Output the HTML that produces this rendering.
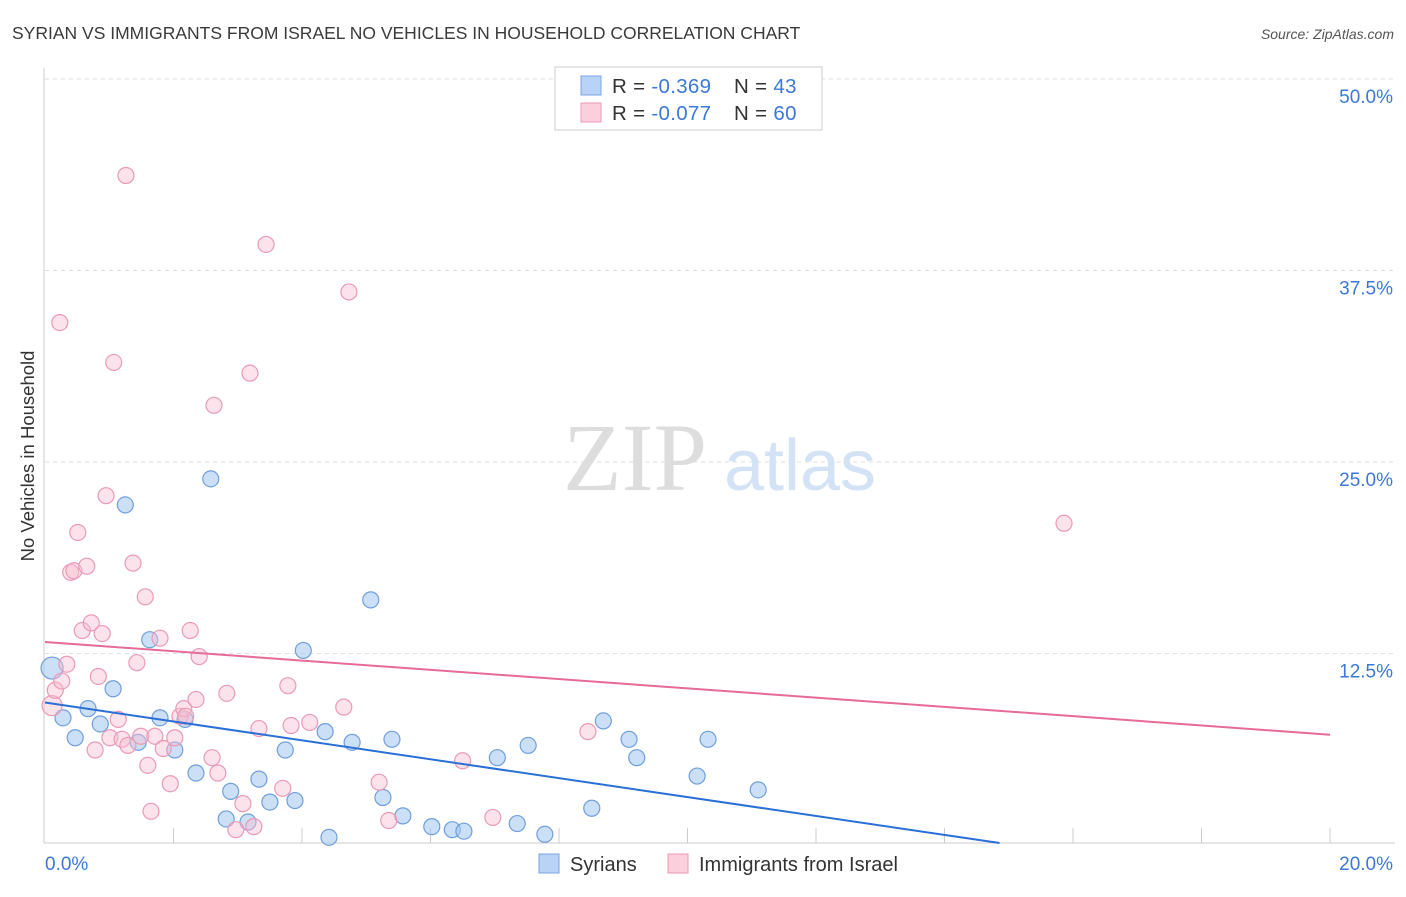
<!DOCTYPE html>
<html><head><meta charset="utf-8"><style>
body{margin:0;background:#fff;font-family:"Liberation Sans",sans-serif;}
svg text{font-family:"Liberation Sans",sans-serif;}
</style></head><body>
<svg width="1406" height="892">
<text x="12" y="39" font-size="17.5" fill="#3a3a3a">SYRIAN VS IMMIGRANTS FROM ISRAEL NO VEHICLES IN HOUSEHOLD CORRELATION CHART</text>
<text x="1394" y="39" font-size="14" fill="#555" font-style="italic" text-anchor="end">Source: ZipAtlas.com</text>
<g id="grid"></g>
<text x="635" y="490" font-size="96" fill="#ddd" font-family="Liberation Serif" text-anchor="middle" style="font-family:'Liberation Serif',serif">ZIP</text>
<text x="800" y="490" font-size="72" fill="#d4e2f5" text-anchor="middle">atlas</text>
<line x1="44" y1="68" x2="44" y2="843" stroke="#ccc"/>
<line x1="44" y1="843" x2="1395" y2="843" stroke="#ccc"/>
<g id="marks"></g>
<text transform="translate(34,456) rotate(-90)" font-size="18.5" fill="#333" text-anchor="middle">No Vehicles in Household</text>
<text x="45" y="870" font-size="19" fill="#3b78d8">0.0%</text>
<text x="1393" y="870" font-size="19" fill="#3b78d8" text-anchor="end">20.0%</text>
<g>
<rect x="555" y="67" width="267" height="63" fill="#fff" stroke="#ccc"/>
<rect x="581" y="76" width="20" height="19" fill="#b8d3f5" stroke="#7aa6e0"/>
<rect x="581" y="103" width="20" height="19" fill="#fbd0dc" stroke="#ec9ab4"/>
<text x="612" y="93" font-size="20.5" fill="#333" letter-spacing="0.3">R = <tspan fill="#3b78d8">-0.369</tspan><tspan x="734">N = </tspan><tspan fill="#3b78d8">43</tspan></text>
<text x="612" y="120" font-size="20.5" fill="#333" letter-spacing="0.3">R = <tspan fill="#3b78d8">-0.077</tspan><tspan x="734">N = </tspan><tspan fill="#3b78d8">60</tspan></text>
</g>
<g>
<rect x="539" y="854" width="20" height="19" fill="#b8d3f5" stroke="#7aa6e0"/>
<text x="570" y="871" font-size="20" fill="#333">Syrians</text>
<rect x="668" y="854" width="20" height="19" fill="#fbd0dc" stroke="#ec9ab4"/>
<text x="699" y="871" font-size="20" fill="#333">Immigrants from Israel</text>
</g>
</svg>
<script>
const yTicks=[12.5,25,37.5,50];
const yTickLabels=["12.5%","25.0%","37.5%","50.0%"];
const xTicks=[2,4,6,8,10,12,14,16,18,20];
const syrX=[0.11,0.28,0.47,0.67,0.86,1.06,1.25,1.45,1.63,1.79,2.02,2.18,2.35,2.58,2.82,2.89,3.16,3.33,3.5,3.74,3.89,4.02,4.36,4.42,4.78,5.07,5.26,5.4,5.57,6.02,6.34,6.52,7.04,7.35,7.52,7.78,8.51,8.69,9.09,9.21,10.15,10.32,11.1];
const syrY=[11.55,8.3,7.0,8.9,7.9,10.2,22.2,6.7,13.4,8.3,6.2,8.2,4.7,23.9,1.7,3.5,1.5,4.3,2.8,6.2,2.9,12.7,7.4,0.5,6.7,16.0,3.1,6.9,1.9,1.2,1.0,0.9,5.7,1.4,6.5,0.7,2.4,8.1,6.9,5.7,4.5,6.9,3.6];
const isrX=[0.11,0.16,0.23,0.26,0.34,0.4,0.45,0.51,0.58,0.65,0.72,0.78,0.83,0.89,0.95,1.01,1.07,1.14,1.2,1.26,1.29,1.37,1.43,1.49,1.56,1.6,1.65,1.71,1.79,1.84,1.95,2.02,2.1,2.16,2.19,2.26,2.35,2.4,2.6,2.63,2.69,2.83,2.97,3.08,3.19,3.25,3.33,3.44,3.7,3.78,3.83,4.12,4.65,4.73,5.2,5.35,6.5,6.97,8.45,15.86];
const isrY=[9.1,10.1,34.1,10.7,11.8,17.8,17.9,20.4,14.0,18.2,14.5,6.2,11.0,13.8,22.8,7.0,31.5,8.2,6.9,43.7,6.5,18.4,11.9,7.1,16.2,5.2,2.2,7.1,13.5,6.3,4.0,7.0,8.4,8.9,8.4,14.0,9.5,12.3,5.7,28.7,4.7,9.9,1.0,2.7,30.8,1.2,7.6,39.2,3.7,10.4,7.8,8.0,9.0,36.1,4.1,1.6,5.5,1.8,7.4,21.0];
const trendIntercept=[9.3,13.25];
const trendSlope=[-0.626,-0.3025];
const xs=v=>45+v*64.25, ys=v=>845-v*15.32;
const NS="http://www.w3.org/2000/svg";
const grid=document.getElementById('grid'), marks=document.getElementById('marks'), svg=document.querySelector('svg');
function mk(t,a,p){const e=document.createElementNS(NS,t);for(const k in a)e.setAttribute(k,a[k]);p.appendChild(e);return e;}
yTicks.forEach((t,i)=>{
 const l=mk('line',{x1:45,x2:1395,y1:ys(t),y2:ys(t),stroke:'#ddd','stroke-dasharray':'4,4'},grid);
 
 
 const tx=mk('text',{x:1393,y:ys(t)+24,'font-size':19,fill:'#3b78d8','text-anchor':'end'},svg);
 tx.textContent=yTickLabels[i];
 
 
});
xTicks.forEach(t=>{
 const l=mk('line',{x1:xs(t),x2:xs(t),y1:828,y2:843,stroke:'#ccc'},grid);
 
 
});
syrX.forEach((x,i)=>{
 const c=mk('circle',{cx:xs(x),cy:ys(syrY[i]),r:i==0?11:8,fill:'rgba(160,196,240,0.55)',stroke:'#6f9fdc','stroke-width':1.2},marks);
 
 
});
isrX.forEach((x,i)=>{
 const c=mk('circle',{cx:xs(x),cy:ys(isrY[i]),r:i==0?10:8,fill:'rgba(248,190,208,0.45)',stroke:'#eb9ab5','stroke-width':1.2},marks);
 
 
});
const cols=['#2a6fd6','#e66b97'];
trendIntercept.forEach((b,i)=>{
 let x2=20; const y2=b+trendSlope[i]*20; if(y2<0)x2=-b/trendSlope[i];
 const l=mk('line',{x1:xs(0),y1:ys(b),x2:xs(x2),y2:Math.min(843,ys(b+trendSlope[i]*x2)),stroke:cols[i],'stroke-width':2},marks);
 
 
});
</script>
</body></html>
